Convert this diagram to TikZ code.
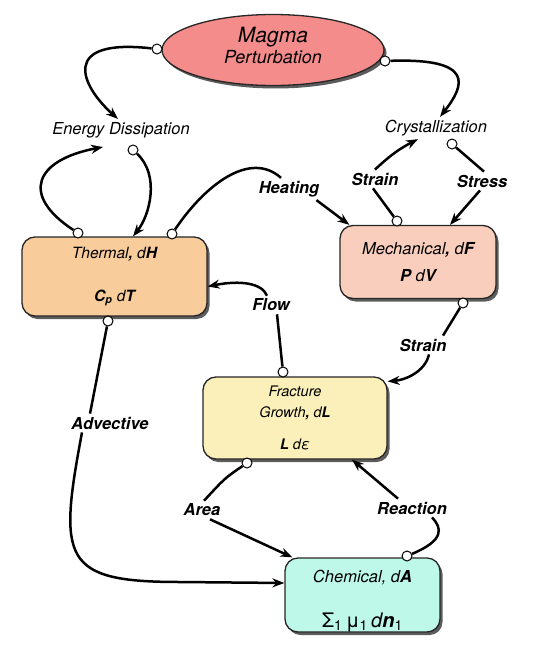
\documentclass[tikz,border=0pt]{standalone}
\usepackage{fontspec}
\setmainfont{TeX Gyre Heros}
\usetikzlibrary{shapes.geometric,shadows,arrows.meta}

\definecolor{magmared}{RGB}{245,140,140}
\definecolor{thermalorange}{RGB}{248,204,155}
\definecolor{mechpink}{RGB}{249,206,188}
\definecolor{fracyellow}{RGB}{252,240,186}
\definecolor{chemcyan}{RGB}{190,248,232}

\tikzset{
  boxshadow/.style={drop shadow={shadow xshift=2.5pt,shadow yshift=-3pt,fill=black!75,opacity=0.85}},
  energybox/.style={draw=black!85,line width=1.3pt,rounded corners=13pt,boxshadow,
    align=center,font=\fontsize{15.5}{18}\selectfont\itshape,inner sep=0pt},
  flowlabel/.style={font=\fontsize{16.5}{19}\selectfont\bfseries\itshape,inner sep=3pt},
  sink/.style={font=\fontsize{16.5}{19}\selectfont\itshape,inner sep=3pt},
  port/.style={circle,draw,fill=white,line width=1pt,minimum size=10pt,inner sep=0pt},
  link/.style={line width=2.5pt},
  feed/.style={link,-{Stealth[length=12pt,width=9pt]}}
}

\begin{document}
\begin{tikzpicture}[x=1pt,y=-1pt]
    \useasboundingbox (0,0) rectangle (549,650);

    % Source and sinks
    \node[ellipse,draw=black!85,line width=1.3pt,fill=magmared,boxshadow,
          minimum width=222pt,minimum height=71pt,inner sep=0pt,align=center]
        (magma) at (273,50) {{\fontsize{21}{23}\selectfont\itshape Magma}\\[2pt]
                             {\fontsize{18}{20}\selectfont\itshape Perturbation}\\[-2pt]\mbox{}};
    \node[sink] (energy) at (121,130) {Energy Dissipation};
    \node[sink] (crys) at (436,128) {Crystallization};

    % Energy terms
    \node[energybox,fill=thermalorange,minimum width=185pt,minimum height=79pt]
        (thermal) at (114.5,276.5) {Thermal\textbf{,} d\textbf{H}\\[25pt]\textbf{C\textsubscript{p}} d\textbf{T}};
    \node[energybox,fill=mechpink,minimum width=156pt,minimum height=73pt,font=\fontsize{16.5}{19}\selectfont\itshape]
        (mech) at (418,262) {Mechanical\textbf{,} d\textbf{F}\\[8pt]\textbf{P} d\textbf{V}};
    \node[energybox,fill=fracyellow,minimum width=184pt,minimum height=82pt,font=\fontsize{14.5}{17}\selectfont\itshape]
        (frac) at (295,418) {Fracture\\[4pt]Growth\textbf{,} d\textbf{L}\\[15pt]\textbf{L} dε};
    \node[energybox,fill=chemcyan,minimum width=155pt,minimum height=74pt,font=\fontsize{16.5}{19}\selectfont\itshape]
        (chem) at (362.5,595) {\mbox{}\\[5pt]Chemical, d\textbf{A}\\[26pt]{\fontsize{20}{22}\selectfont\upshape
        Σ\textsubscript{1}\,μ\textsubscript{1}\,\itshape d\textbf{n}\upshape\textsubscript{1}}};

    % Ports
    \node[port] (dMagL) at (157,49) {};
    \node[port] (dMagR) at (385,61) {};
    \node[port] (dEnergy) at (133,150) {};
    \node[port] (dCrys) at (452,144) {};
    \node[port] (dThL) at (78,233) {};
    \node[port] (dThR) at (172,234) {};
    \node[port] (dThB) at (108,321) {};
    \node[port] (dMechT) at (397,221) {};
    \node[port] (dMechB) at (463,303) {};
    \node[port] (dFracT) at (283,372) {};
    \node[port] (dFracB) at (247,463) {};
    \node[port] (dChemT) at (407,556) {};
    \coordinate (eIn) at (103,147);

    % Labels
    \node[flowlabel] (lHeat) at (289,189) {Heating};
    \node[flowlabel] (lStrainU) at (375,179) {Strain};
    \node[flowlabel] (lStress) at (482,181) {Stress};
    \node[flowlabel] (lFlow) at (271,305) {Flow};
    \node[flowlabel] (lStrainL) at (423,345) {Strain};
    \node[flowlabel] (lAdv) at (110,423) {Advective};
    \node[flowlabel] (lArea) at (202,510) {Area};
    \node[flowlabel] (lReact) at (412,508) {Reaction};

    % Magma outputs
    \draw[feed] (dMagL) .. controls (60,38) and (80,85) .. ([xshift=-3pt]energy.north);
    \draw[feed] (dMagR) .. controls (475,58) and (465,85) .. ([xshift=4pt]crys.north);

    % Thermal loop
    \draw[feed] (dEnergy) .. controls (160,175) and (150,215) .. (thermal.north -| dEnergy);
    \draw[feed] (dThL) .. controls (20,195) and (35,160) .. (eIn);
    \draw[link] (dThR) .. controls (205,185) and (250,150) .. ([xshift=-8pt]lHeat.north);
    \draw[feed] ([xshift=-6pt]lHeat.south east) -- ([xshift=10pt]mech.north west);

    % Mechanical loop
    \draw[link] (dMechT) -- ([xshift=-2pt]lStrainU.south);
    \draw[feed] (lStrainU.north) to[bend left=8] ([xshift=-18pt]crys.south);
    \draw[link] (dCrys) -- ([xshift=2pt]lStress.north);
    \draw[feed] ([xshift=-2pt]lStress.south) -- ([xshift=32pt]mech.north);

    % Fracture links
    \draw[link] (dFracT) -- ([xshift=6pt]lFlow.south);
    \draw[feed] ([xshift=-4pt]lFlow.north) .. controls (262,283) and (240,280) .. ([yshift=-10pt]thermal.east);
    \draw[link] (dMechB) -- ([xshift=20pt]lStrainL.north);
    \draw[feed] ([xshift=6pt]lStrainL.south) .. controls (425,372) and (405,380) .. ([yshift=-5pt]frac.north east);

    % Chemical links
    \draw[link] (dThB) -- ([xshift=-20pt]lAdv.north);
    \draw[feed] ([xshift=-28pt]lAdv.south) .. controls (58,560) and (62,582) .. (180,582) -- ([yshift=12pt]chem.west);
    \draw[link] (dFracB) .. controls (225,478) .. ([xshift=2pt]lArea.north);
    \draw[feed] ([xshift=8pt]lArea.south) -- ([xshift=8pt]chem.north west);
    \draw[link] (dChemT) .. controls (445,540) and (442,528) .. ([xshift=20pt]lReact.south);
    \draw[feed] ([xshift=-14pt]lReact.north) -- ([xshift=57pt]frac.south);
\end{tikzpicture}
\end{document}
